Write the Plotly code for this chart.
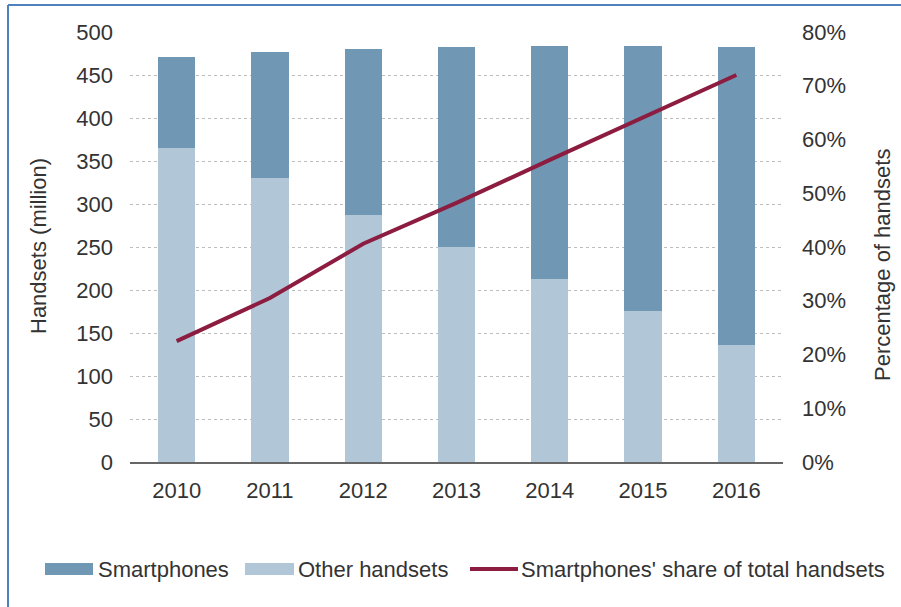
import plotly.graph_objects as go

# Handset shipments (million) and smartphone share
years = ["2010", "2011", "2012", "2013", "2014", "2015", "2016"]
other_handsets = [365, 330, 287, 250, 213, 176, 136]
smartphones = [106, 147, 193, 233, 271, 308, 347]
smartphone_share = [0.225, 0.305, 0.406, 0.482, 0.562, 0.640, 0.720]

left_ticks = list(range(0, 501, 50))
right_ticks = [i / 10 for i in range(0, 9)]

COL_SMART = "#7098b5"
COL_OTHER = "#b1c6d7"
COL_LINE = "#8c1d40"
COL_TEXT = "#333333"
FONT = "Liberation Sans, Arial, sans-serif"
FS = 22

W, H = 901, 607
ML, MR, MT, MB = 130, 118, 32, 145
PW, PH = W - ML - MR, H - MT - MB


def px_x(px):
    return (px - ML) / PW


def px_y(py):
    return (H - MB - py) / PH


fig = go.Figure()
fig.add_trace(go.Bar(x=years, y=other_handsets, name="Other handsets",
                     marker=dict(color=COL_OTHER, line=dict(width=0)),
                     width=0.4, showlegend=False))
fig.add_trace(go.Bar(x=years, y=smartphones, name="Smartphones",
                     marker=dict(color=COL_SMART, line=dict(width=0)),
                     width=0.4, showlegend=False))
fig.add_trace(go.Scatter(x=years, y=smartphone_share, yaxis="y2", mode="lines",
                         name="Smartphones' share of total handsets",
                         line=dict(color=COL_LINE, width=4), showlegend=False))

fig.update_layout(
    width=W, height=H,
    margin=dict(l=ML, r=MR, t=MT, b=MB, autoexpand=False),
    paper_bgcolor="white", plot_bgcolor="white",
    barmode="stack",
    font=dict(family=FONT, size=FS, color=COL_TEXT),
    xaxis=dict(showline=True, linecolor="#666666", linewidth=1.5,
               showgrid=False, ticks="", ticklabelstandoff=8,
               tickfont=dict(size=FS)),
    yaxis=dict(range=[0, 500], tickvals=left_ticks, showgrid=True,
               gridcolor="#bdbdbd", griddash="3px,3px", gridwidth=1,
               zeroline=False, ticks="", ticklabelstandoff=16,
               tickfont=dict(size=FS)),
    yaxis2=dict(range=[0, 0.8], tickvals=right_ticks, tickformat=".0%",
                overlaying="y", side="right", showgrid=False, zeroline=False,
                ticks="", ticklabelstandoff=18, tickfont=dict(size=FS)),
)

annotations = [
    dict(text="Handsets (million)", x=px_x(39), y=px_y(246), textangle=-90,
         xanchor="center", yanchor="middle", showarrow=False,
         font=dict(size=FS)),
    dict(text="Percentage of handsets", x=px_x(882), y=px_y(265), textangle=-90,
         xanchor="center", yanchor="middle", showarrow=False,
         font=dict(size=FS)),
]

# Legend row drawn beneath the chart
legend_y = px_y(569)
legend_items = [
    ("Smartphones", COL_SMART, "box", 45, 93, 96),
    ("Other handsets", COL_OTHER, "box", 245, 294, 296),
    ("Smartphones' share of total handsets", COL_LINE, "line", 470, 518, 519),
]
shapes = []
for label, color, kind, x0, x1, tx in legend_items:
    if kind == "box":
        shapes.append(dict(type="rect", xref="paper", yref="paper",
                           x0=px_x(x0), x1=px_x(x1), y0=px_y(575), y1=px_y(563),
                           fillcolor=color, line=dict(width=0)))
    else:
        shapes.append(dict(type="line", xref="paper", yref="paper",
                           x0=px_x(x0), x1=px_x(x1), y0=legend_y, y1=legend_y,
                           line=dict(color=color, width=4)))
    annotations.append(dict(text=label, x=px_x(tx), y=legend_y, xanchor="left",
                            yanchor="middle", showarrow=False,
                            font=dict(size=FS)))

# Frame around the chart
shapes.append(dict(type="line", xref="paper", yref="paper",
                   x0=px_x(8), x1=px_x(8), y0=px_y(5), y1=px_y(H),
                   line=dict(color="#4f81bd", width=2)))
shapes.append(dict(type="line", xref="paper", yref="paper",
                   x0=px_x(8), x1=px_x(W), y0=px_y(5), y1=px_y(5),
                   line=dict(color="#4f81bd", width=2)))

for a in annotations:
    a.setdefault("xref", "paper")
    a.setdefault("yref", "paper")
fig.update_layout(annotations=annotations, shapes=shapes)

fig.write_html("out.html")
